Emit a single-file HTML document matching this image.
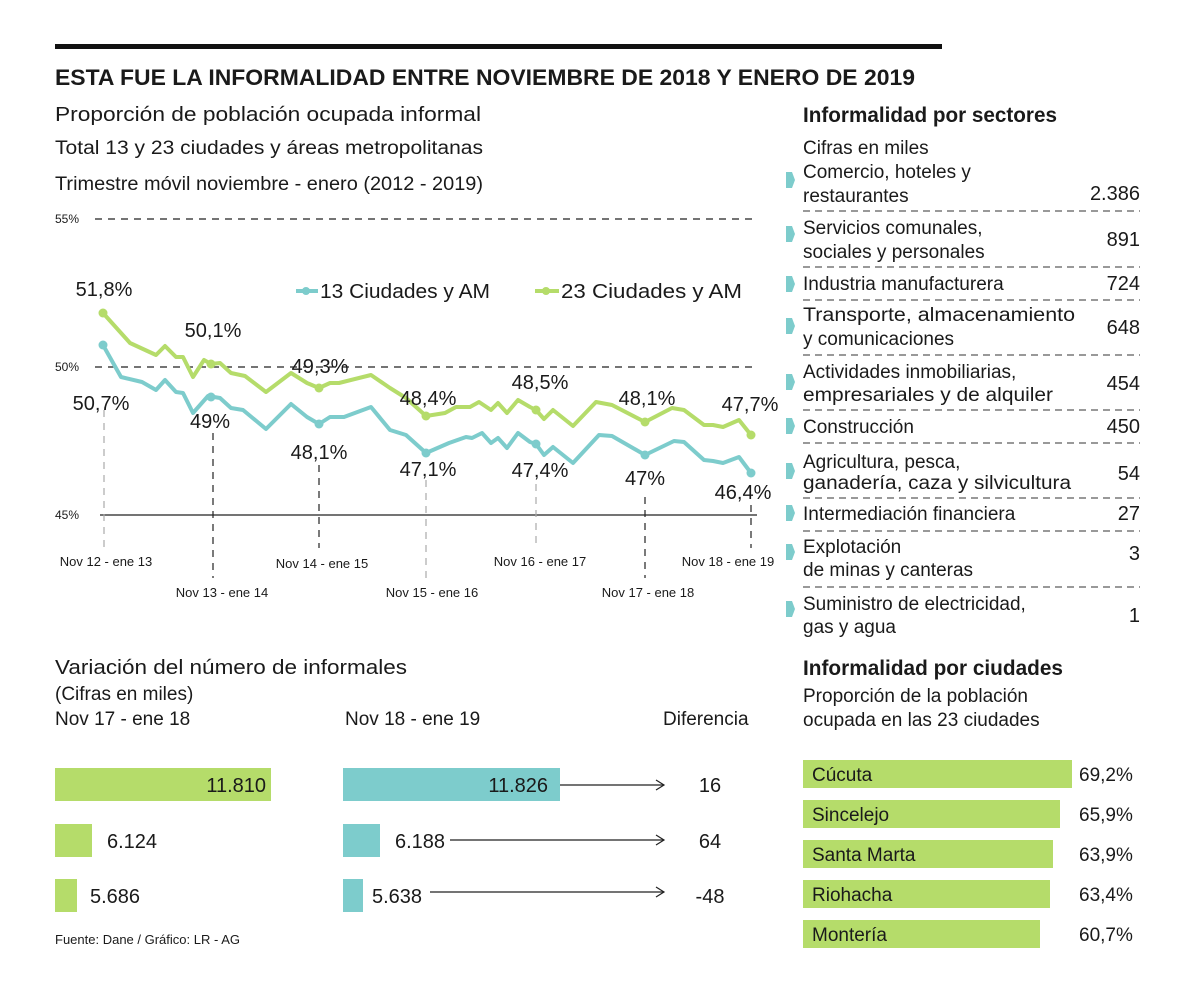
<!DOCTYPE html>
<html><head><meta charset="utf-8"><style>
html,body{margin:0;padding:0;background:#fff}
svg{display:block}
text{font-family:"Liberation Sans",sans-serif;fill:#1a1a1a}
</style></head><body>
<svg width="1200" height="991" viewBox="0 0 1200 991" xmlns="http://www.w3.org/2000/svg">
<rect x="55" y="44" width="887" height="5" fill="#111"/>
<text x="55" y="85" font-size="22" font-weight="bold" textLength="860" lengthAdjust="spacingAndGlyphs">ESTA FUE LA INFORMALIDAD ENTRE NOVIEMBRE DE 2018 Y ENERO DE 2019</text>
<text x="55" y="121" font-size="20" textLength="426" lengthAdjust="spacingAndGlyphs">Proporción de población ocupada informal</text>
<text x="55" y="154" font-size="19" textLength="428" lengthAdjust="spacingAndGlyphs">Total 13 y 23 ciudades y áreas metropolitanas</text>
<text x="55" y="190" font-size="19" textLength="428" lengthAdjust="spacingAndGlyphs">Trimestre móvil noviembre - enero (2012 - 2019)</text>

<g stroke="#222" stroke-width="1.2" stroke-dasharray="7,6">
<line x1="95" y1="219" x2="757" y2="219"/>
<line x1="95" y1="367" x2="757" y2="367"/>
</g>
<line x1="100" y1="515" x2="757" y2="515" stroke="#222" stroke-width="1.3"/>
<g font-size="12"><text x="55" y="223">55%</text><text x="55" y="371">50%</text><text x="55" y="519">45%</text></g>

<g stroke-width="1.2" stroke-dasharray="7,6">
<line x1="104" y1="410" x2="104" y2="548" stroke="#aaa"/>
<line x1="213" y1="433" x2="213" y2="578" stroke="#222"/>
<line x1="319" y1="465" x2="319" y2="548" stroke="#222"/>
<line x1="426" y1="480" x2="426" y2="578" stroke="#aaa"/>
<line x1="536" y1="484" x2="536" y2="548" stroke="#aaa"/>
<line x1="645" y1="497" x2="645" y2="578" stroke="#222"/>
<line x1="751" y1="505" x2="751" y2="548" stroke="#222"/>
</g>
<g font-size="13" text-anchor="middle">
<text x="106" y="566">Nov 12 - ene 13</text>
<text x="322" y="568">Nov 14 - ene  15</text>
<text x="540" y="566">Nov 16 - ene 17</text>
<text x="728" y="566">Nov 18 - ene 19</text>
<text x="222" y="597">Nov 13 - ene 14</text>
<text x="432" y="597">Nov 15 - ene 16</text>
<text x="648" y="597">Nov 17 - ene 18</text>
</g>

<polyline fill="none" stroke="#b5dc6a" stroke-width="4" stroke-linejoin="round" stroke-linecap="round" points="103,313 130,343 156,355 165,346 176,357 183,357 193,377 204,360 211,364 220,363 231,373 245,376 266,392 291,373 307,383 319,388 330,383 339,383 371,375 390,388 406,398 426,416 445,413 456,407 470,407 479,402 491,410 498,403 507,413 518,400 530,407 536,410 544,419 553,410 573,426 596,402 612,405 645,422 672,408 684,410 704,425 713,425 723,427 739,420 751,435"/>
<polyline fill="none" stroke="#7dcccc" stroke-width="4" stroke-linejoin="round" stroke-linecap="round" points="103,345 121,377 142,382 156,390 165,380 176,392 183,393 193,413 208,396 220,398 231,408 243,410 266,429 291,404 307,417 319,424 330,417 344,417 371,407 390,430 406,435 426,453 449,443 466,437 472,438 482,433 491,443 498,438 507,448 518,433 530,442 536,444 544,455 553,447 573,463 599,435 612,436 645,455 674,441 684,442 704,460 713,461 723,463 739,457 751,473"/>
<g fill="#b5dc6a"><circle cx="103" cy="313" r="4.5"/><circle cx="211" cy="364" r="4.5"/><circle cx="319" cy="388" r="4.5"/><circle cx="426" cy="416" r="4.5"/><circle cx="536" cy="410" r="4.5"/><circle cx="645" cy="422" r="4.5"/><circle cx="751" cy="435" r="4.5"/></g>
<g fill="#7dcccc"><circle cx="103" cy="345" r="4.5"/><circle cx="211" cy="397" r="4.5"/><circle cx="319" cy="424" r="4.5"/><circle cx="426" cy="453" r="4.5"/><circle cx="536" cy="444" r="4.5"/><circle cx="645" cy="455" r="4.5"/><circle cx="751" cy="473" r="4.5"/></g>

<g font-size="20" text-anchor="middle">
<text x="104" y="296">51,8%</text>
<text x="213" y="337">50,1%</text>
<text x="320" y="373">49,3%</text>
<text x="428" y="405">48,4%</text>
<text x="540" y="389">48,5%</text>
<text x="647" y="405">48,1%</text>
<text x="750" y="411">47,7%</text>
</g>
<g font-size="20" text-anchor="middle" style="fill:#333">
<text x="101" y="410">50,7%</text>
<text x="210" y="428">49%</text>
<text x="319" y="459">48,1%</text>
<text x="428" y="476">47,1%</text>
<text x="540" y="477">47,4%</text>
<text x="645" y="485">47%</text>
<text x="743" y="499">46,4%</text>
</g>
<line x1="296" y1="291" x2="318" y2="291" stroke="#7dcccc" stroke-width="4"/><circle cx="306" cy="291" r="4" fill="#7dcccc"/>
<text x="320" y="298" font-size="20" textLength="170" lengthAdjust="spacingAndGlyphs">13 Ciudades y AM</text>
<line x1="535" y1="291" x2="559" y2="291" stroke="#b5dc6a" stroke-width="4"/><circle cx="546" cy="291" r="4" fill="#b5dc6a"/>
<text x="561" y="298" font-size="20" textLength="181" lengthAdjust="spacingAndGlyphs">23  Ciudades y AM</text>

<text x="803" y="122" font-size="21" font-weight="bold" textLength="254" lengthAdjust="spacingAndGlyphs">Informalidad por sectores</text>
<g font-size="19">
<text x="803" y="154">Cifras en miles</text>
<text x="803" y="178">Comercio, hoteles y</text><text x="803" y="202">restaurantes</text>
<text x="803" y="234">Servicios comunales,</text><text x="803" y="258">sociales y personales</text>
<text x="803" y="290">Industria manufacturera</text>
<text x="803" y="321" textLength="272" lengthAdjust="spacingAndGlyphs">Transporte, almacenamiento</text><text x="803" y="345">y comunicaciones</text>
<text x="803" y="378">Actividades inmobiliarias,</text><text x="803" y="401" textLength="250" lengthAdjust="spacingAndGlyphs">empresariales y de alquiler</text>
<text x="803" y="433">Construcción</text>
<text x="803" y="468">Agricultura, pesca,</text><text x="803" y="489" textLength="268" lengthAdjust="spacingAndGlyphs">ganadería, caza y silvicultura</text>
<text x="803" y="520">Intermediación financiera</text>
<text x="803" y="553">Explotación</text><text x="803" y="576">de minas y canteras</text>
<text x="803" y="610">Suministro de electricidad,</text><text x="803" y="633">gas y agua</text>
</g>
<g font-size="20" text-anchor="end">
<text x="1140" y="200">2.386</text><text x="1140" y="246">891</text><text x="1140" y="290">724</text><text x="1140" y="334">648</text><text x="1140" y="390">454</text><text x="1140" y="433">450</text><text x="1140" y="480">54</text><text x="1140" y="520">27</text><text x="1140" y="560">3</text><text x="1140" y="622">1</text>
</g>
<g stroke="#333" stroke-width="1" stroke-dasharray="7,5">
<line x1="803" y1="211" x2="1140" y2="211"/><line x1="803" y1="267" x2="1140" y2="267"/><line x1="803" y1="300" x2="1140" y2="300"/><line x1="803" y1="355" x2="1140" y2="355"/><line x1="803" y1="410" x2="1140" y2="410"/><line x1="803" y1="443" x2="1140" y2="443"/><line x1="803" y1="498" x2="1140" y2="498"/><line x1="803" y1="531" x2="1140" y2="531"/><line x1="803" y1="587" x2="1140" y2="587"/>
</g>
<g fill="#7dcccc">
<path d="M786,172 h6 l3,8 l-3,8 h-6z"/><path d="M786,226 h6 l3,8 l-3,8 h-6z"/><path d="M786,276 h6 l3,8 l-3,8 h-6z"/><path d="M786,318 h6 l3,8 l-3,8 h-6z"/><path d="M786,374 h6 l3,8 l-3,8 h-6z"/><path d="M786,418 h6 l3,8 l-3,8 h-6z"/><path d="M786,463 h6 l3,8 l-3,8 h-6z"/><path d="M786,505 h6 l3,8 l-3,8 h-6z"/><path d="M786,544 h6 l3,8 l-3,8 h-6z"/><path d="M786,601 h6 l3,8 l-3,8 h-6z"/>
</g>

<text x="55" y="674" font-size="20" textLength="352" lengthAdjust="spacingAndGlyphs">Variación del número de informales</text>
<g font-size="19">
<text x="55" y="700">(Cifras en miles)</text>
<text x="55" y="725">Nov 17 - ene 18</text>
<text x="345" y="725">Nov 18 - ene 19</text>
<text x="663" y="725">Diferencia</text>
</g>
<rect x="55" y="768" width="216" height="33" fill="#b5dc6a"/>
<rect x="55" y="824" width="37" height="33" fill="#b5dc6a"/>
<rect x="55" y="879" width="22" height="33" fill="#b5dc6a"/>
<rect x="343" y="768" width="217" height="33" fill="#7dcccc"/>
<rect x="343" y="824" width="37" height="33" fill="#7dcccc"/>
<rect x="343" y="879" width="20" height="33" fill="#7dcccc"/>
<g font-size="20">
<text x="266" y="792" text-anchor="end">11.810</text>
<text x="107" y="848">6.124</text>
<text x="90" y="903">5.686</text>
<text x="548" y="792" text-anchor="end">11.826</text>
<text x="395" y="848" textLength="50" lengthAdjust="spacingAndGlyphs">6.188</text>
<text x="372" y="903">5.638</text>
<text x="710" y="792" text-anchor="middle">16</text>
<text x="710" y="848" text-anchor="middle">64</text>
<text x="710" y="903" text-anchor="middle">-48</text>
</g>
<g stroke="#222" stroke-width="1.2" fill="none">
<line x1="560" y1="785" x2="664" y2="785"/><polyline points="656,780 664,785 656,790"/>
<line x1="450" y1="840" x2="664" y2="840"/><polyline points="656,835 664,840 656,845"/>
<line x1="430" y1="892" x2="664" y2="892"/><polyline points="656,887 664,892 656,897"/>
</g>
<text x="55" y="944" font-size="13">Fuente: Dane / Gráfico: LR - AG</text>

<text x="803" y="675" font-size="21" font-weight="bold" textLength="260" lengthAdjust="spacingAndGlyphs">Informalidad por ciudades</text>
<g font-size="19">
<text x="803" y="702">Proporción de la población</text>
<text x="803" y="726">ocupada en las 23 ciudades</text>
</g>
<g fill="#b5dc6a">
<rect x="803" y="760" width="269" height="28"/>
<rect x="803" y="800" width="257" height="28"/>
<rect x="803" y="840" width="250" height="28"/>
<rect x="803" y="880" width="247" height="28"/>
<rect x="803" y="920" width="237" height="28"/>
</g>
<g font-size="19">
<text x="812" y="781">Cúcuta</text><text x="812" y="821">Sincelejo</text><text x="812" y="861">Santa Marta</text><text x="812" y="901">Riohacha</text><text x="812" y="941">Montería</text>
</g>
<g font-size="19">
<text x="1079" y="781">69,2%</text><text x="1079" y="821">65,9%</text><text x="1079" y="861">63,9%</text><text x="1079" y="901">63,4%</text><text x="1079" y="941">60,7%</text>
</g>
</svg>
</body></html>
